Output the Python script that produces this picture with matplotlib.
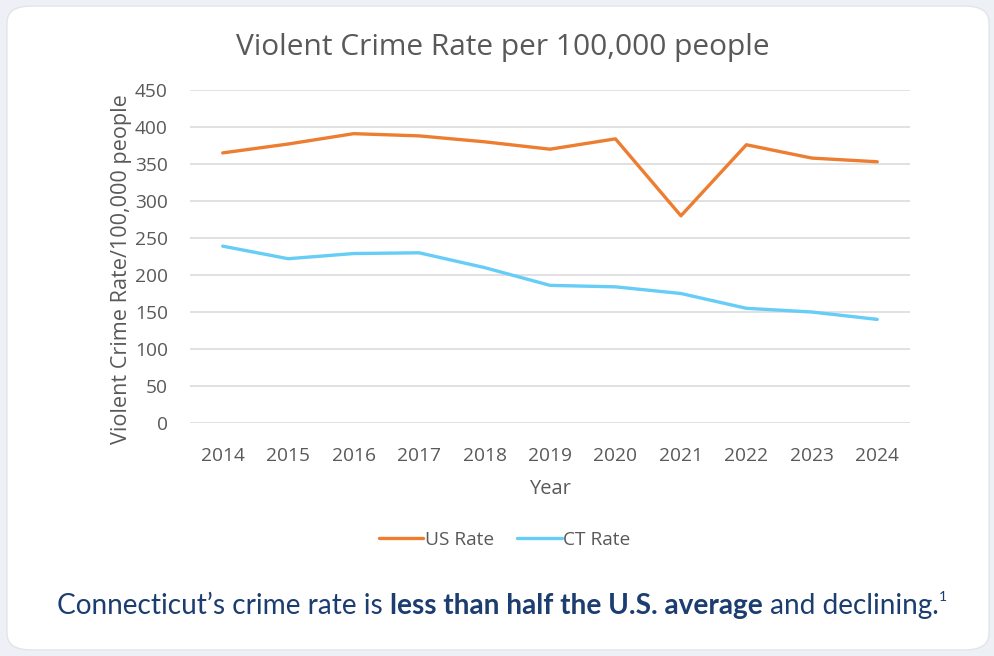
import matplotlib
matplotlib.use("Agg")
import matplotlib.pyplot as plt
from matplotlib.patches import FancyBboxPatch

# Data
years = ["2014", "2015", "2016", "2017", "2018", "2019", "2020", "2021", "2022", "2023", "2024"]
us_rate = [365, 377, 391, 388, 380, 370, 384, 280, 376, 358, 353]
ct_rate = [239, 222, 229, 230, 210, 186, 184, 175, 155, 150, 140]
y_ticks = [0, 50, 100, 150, 200, 250, 300, 350, 400, 450]

gray = "#595959"
navy = "#1B3D6F"

fig = plt.figure(figsize=(9.94, 6.56), dpi=100)
fig.patch.set_facecolor("#EDF0F4")

# white card behind everything
card = FancyBboxPatch((7 / 994, 6 / 656), 1 - 12 / 994, 1 - 12 / 656,
                      boxstyle="round,pad=0,rounding_size=0.025",
                      transform=fig.transFigure, facecolor="white",
                      edgecolor="#E1E5EA", lw=1, zorder=-5)
fig.patches.append(card)

ax = fig.add_axes([190 / 994, 1 - 423 / 656, 720 / 994, 333 / 656])
ax.set_facecolor("none")

x = list(range(len(years)))
ax.plot(x, us_rate, color="#ED7D31", lw=2.4, label="US Rate", solid_capstyle="round")
ax.plot(x, ct_rate, color="#66CDF6", lw=2.4, label="CT Rate", solid_capstyle="round")

ax.set_xlim(-0.5, len(years) - 0.5)
ax.set_ylim(0, 450)
ax.set_yticks(y_ticks)
ax.set_xticks(x)
ax.set_xticklabels(years)
ax.grid(axis="y", color="#D9D9D9", lw=1.1)
ax.set_axisbelow(True)
for s in ax.spines.values():
    s.set_visible(False)
ax.tick_params(length=0, labelsize=13.8, labelcolor=gray)
ax.tick_params(axis="y", pad=16)
ax.tick_params(axis="x", pad=17)
for lab in ax.get_xticklabels() + ax.get_yticklabels():
    lab.set_fontfamily("Open Sans")

ax.set_xlabel("Year", fontsize=14.5, color=gray, family="Open Sans", labelpad=10)
ax.set_ylabel("Violent Crime Rate/100,000 people", fontsize=15.6, color=gray,
              family="Open Sans")
ax.yaxis.set_label_coords(-58 / 720, 0.4625)

fig.text(503 / 994, 1 - 47 / 656, "Violent Crime Rate per 100,000 people",
         ha="center", va="center", fontsize=21.5, color=gray, family="Open Sans")

leg = fig.legend(loc="center", bbox_to_anchor=(505 / 994, 1 - 540 / 656), ncol=2,
                 frameon=False, handlelength=2.3, handletextpad=0.1, columnspacing=1.2,
                 prop={"family": "Open Sans", "size": 13.8})
for t in leg.get_texts():
    t.set_color(gray)

# caption with a bold middle part, laid out piece by piece
parts = [("Connecticut\u2019s crime rate is ", "normal"),
         ("less than half the U.S. average", "bold"),
         (" and declining.", "normal")]
fig.canvas.draw()
r = fig.canvas.get_renderer()
cap_size = 20.2
cap_y = 1 - 606 / 656
widths = []
for txt, w in parts:
    t = fig.text(0, cap_y, txt, fontsize=cap_size, weight=w, family="Lato", color=navy)
    widths.append(t.get_window_extent(r).width)
    t.remove()
sup = fig.text(0, 0, "1", fontsize=10, family="Lato", color=navy)
sup_w = sup.get_window_extent(r).width
sup.remove()
total = sum(widths) + sup_w
xpos = (502 - total / 2)
for (txt, w), wd in zip(parts, widths):
    fig.text(xpos / 994, cap_y, txt, fontsize=cap_size, weight=w, family="Lato",
             color=navy, va="center")
    xpos += wd
fig.text(xpos / 994, cap_y + 9 / 656, "1", fontsize=10, family="Lato", color=navy, va="center")

fig.savefig("out.png", dpi=100, facecolor=fig.get_facecolor())
